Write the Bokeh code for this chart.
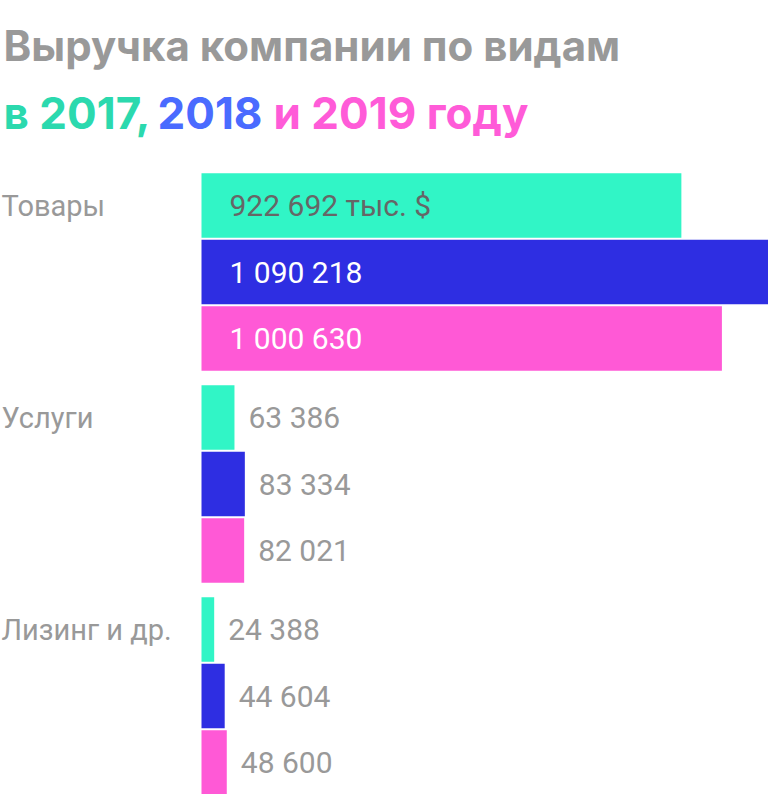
from bokeh.plotting import figure
from bokeh.models import Range1d, Label
from bokeh.core.properties import value
from bokeh.embed import file_html
from bokeh.resources import INLINE

# ---- data ----
categories = ["Товары", "Услуги", "Лизинг и др."]
years = ["2017", "2018", "2019"]
values_2017 = [922692, 63386, 24388]
values_2018 = [1090218, 83334, 44604]
values_2019 = [1000630, 82021, 48600]
value_labels_2017 = ["922 692 тыс. $", "63 386", "24 388"]
value_labels_2018 = ["1 090 218", "83 334", "44 604"]
value_labels_2019 = ["1 000 630", "82 021", "48 600"]

# ---- styling / layout ----
W, H = 768, 794
BAR_START_PX = 201
FONT = "Roboto"
TITLE_FONT = "Inter"
bar_colors = ["#31f5c6", "#2e2ee2", "#ff59d6"]
title_colors = ["#2bd9ae", "#4a6bff", "#ff5bd8"]
inside_text_colors = ["#666666", "#ffffff", "#ffffff"]
outside_text_color = "#999999"

max_val = max(values_2018)
x_end = max_val
x_start = -BAR_START_PX * max_val / (W - BAR_START_PX)


def px2val(px):
    return x_start + px * (x_end - x_start) / W


p = figure(width=W, height=H, output_backend="svg", toolbar_location=None,
           x_range=Range1d(x_start, x_end), y_range=Range1d(H, 0),
           x_axis_location=None, y_axis_location=None, min_border=0)
p.outline_line_color = None
p.grid.visible = False
p.background_fill_color = "white"

first_center = 205
group_gap = 212
row_step = 66.5
bar_h = 64.5

series = [values_2017, values_2018, values_2019]
series_labels = [value_labels_2017, value_labels_2018, value_labels_2019]

for si, (vals, labs) in enumerate(zip(series, series_labels)):
    ys = [first_center + gi * group_gap + si * row_step for gi in range(len(categories))]
    p.hbar(y=ys, left=0, right=vals, height=bar_h, fill_color=bar_colors[si],
           line_color=None)
    inside = [v > 300000 for v in vals]
    in_y = [y for y, f in zip(ys, inside) if f]
    in_t = [t for t, f in zip(labs, inside) if f]
    out_y = [y for y, f in zip(ys, inside) if not f]
    out_x = [v for v, f in zip(vals, inside) if not f]
    out_t = [t for t, f in zip(labs, inside) if not f]
    if in_y:
        p.text(x=[0] * len(in_y), y=in_y, text=in_t, x_offset=28,
               text_baseline="middle", text_align="left",
               text_font=value(FONT), text_font_size=value("30px"),
               text_color=inside_text_colors[si])
    if out_y:
        p.text(x=out_x, y=out_y, text=out_t, x_offset=14,
               text_baseline="middle", text_align="left",
               text_font=value(FONT), text_font_size=value("30px"),
               text_color=outside_text_color)

# category labels
cat_y = [first_center + gi * group_gap for gi in range(len(categories))]
p.text(x=[px2val(1)] * len(categories), y=cat_y, text=categories,
       text_baseline="middle", text_align="left",
       text_font=value(FONT), text_font_size=value("29px"),
       text_color=outside_text_color)

# title
p.add_layout(Label(x=px2val(3), y=45, text="Выручка компании по видам",
                   text_font=TITLE_FONT, text_font_size="42px", text_font_style="bold",
                   text_color="#999999", text_baseline="alphabetic"))
title_parts = ["в 2017,", "2018", "и 2019 году"]
title_px = [3, 157, 273]
for t, xp, c in zip(title_parts, title_px, title_colors):
    p.add_layout(Label(x=px2val(xp), y=112, text=t,
                       text_font=TITLE_FONT, text_font_size="44px", text_font_style="bold",
                       text_color=c, text_baseline="alphabetic"))

open("out.html", "w").write(file_html(p, INLINE))
